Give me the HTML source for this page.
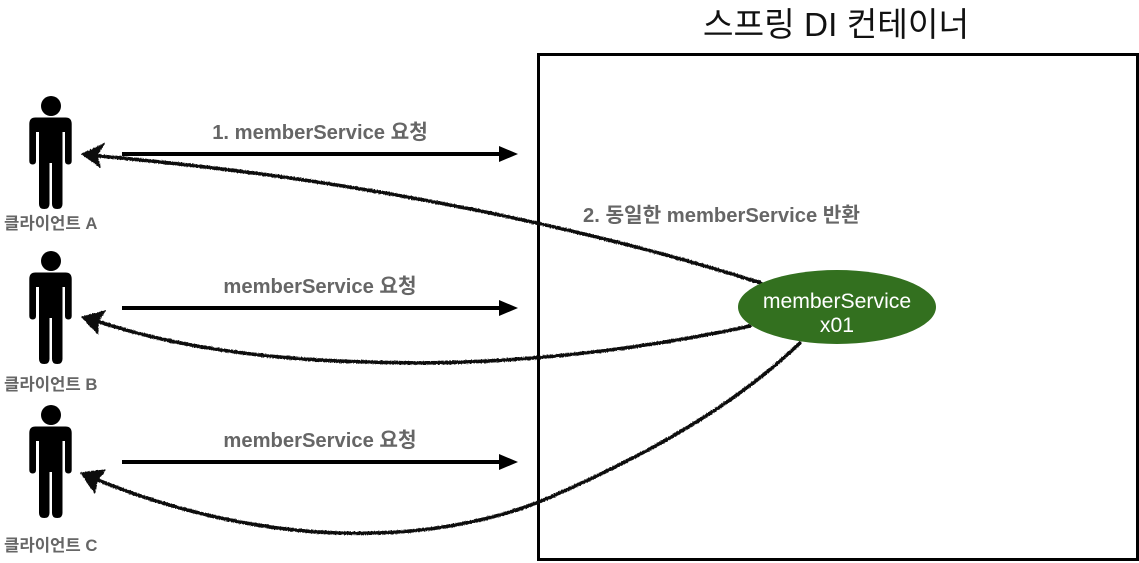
<!DOCTYPE html>
<html><head><meta charset="utf-8">
<style>
html,body{margin:0;padding:0;background:#fff;width:1139px;height:563px;overflow:hidden}
svg{display:block}
text{font-family:"Liberation Sans","Noto Sans CJK KR",sans-serif}
.g{fill:#666;font-weight:bold}
.s{fill:none;stroke:#111;stroke-width:3.6;stroke-linecap:round}
</style></head><body>
<svg width="1139" height="563" viewBox="0 0 1139 563" xmlns="http://www.w3.org/2000/svg">
<defs>
<filter id="r" filterUnits="userSpaceOnUse" x="0" y="0" width="1139" height="563">
<feTurbulence type="fractalNoise" baseFrequency="0.7" numOctaves="2" seed="4" result="n"/>
<feDisplacementMap in="SourceGraphic" in2="n" scale="2.2" xChannelSelector="R" yChannelSelector="G"/>
</filter>
<g id="p">
<circle cx="51" cy="106" r="10"/>
<path d="M35.5 117.5H65.5Q71.7 117.5 71.7 124V161Q71.7 164.5 68.4 164.5Q65 164.5 65 161V132H62.5V204Q62.5 209 57.2 209Q52 209 52 204V163H49.5V204Q49.5 209 44.2 209Q39 209 39 204V132H36V161Q36 164.5 32.7 164.5Q29.3 164.5 29.3 161V124Q29.3 117.5 35.5 117.5Z"/>
</g>
</defs>
<rect x="538.5" y="54.5" width="599" height="505" fill="none" stroke="#000" stroke-width="3"/>
<text x="836" y="36" font-size="33.3" text-anchor="middle" fill="#111">스프링 DI 컨테이너</text>
<use href="#p"/><use href="#p" y="155"/><use href="#p" y="309"/>
<text class="g" x="4" y="229" font-size="16.7">클라이언트 A</text>
<text class="g" x="4" y="390" font-size="16.7">클라이언트 B</text>
<text class="g" x="4" y="551" font-size="16.7">클라이언트 C</text>
<g fill="#000">
<rect x="122" y="152" width="380" height="4"/><path d="M499 146L518 154L499 162Z"/>
<rect x="122" y="306" width="380" height="4"/><path d="M499 300L518 308L499 316Z"/>
<rect x="122" y="460" width="380" height="4"/><path d="M499 454L518 462L499 470Z"/>
</g>
<text class="g" x="320" y="139" font-size="20.2" text-anchor="middle">1. memberService 요청</text>
<text class="g" x="320" y="293" font-size="20.2" text-anchor="middle">memberService 요청</text>
<text class="g" x="320" y="447" font-size="20.2" text-anchor="middle">memberService 요청</text>
<text class="g" x="721.5" y="222" font-size="20.2" text-anchor="middle">2. 동일한 memberService 반환</text>
<g filter="url(#r)">
<path class="s" d="M761 283C610 235 380 180 88 155"/>
<path class="s" d="M750 326C640 350 500 367 370 362C270 360 170 347 88 318"/>
<path class="s" d="M800 343C725 415 625 465 539 502C472 528 400 535 338 533C270 531 180 515 88 476"/>
<g fill="#111" stroke="#111" stroke-width="1.2" stroke-linejoin="round">
<path d="M82 154L104 144L97 155L100 167Z"/>
<path d="M82 317L105 311L98 321L98 334Z"/>
<path d="M81 473L105 470L97 481L95 493Z"/>
</g>
</g>
<ellipse cx="837" cy="307" rx="99" ry="37" fill="#33701f"/>
<text x="837" y="308" font-size="21.2" text-anchor="middle" fill="#fff">memberService</text>
<text x="837" y="332" font-size="21.2" text-anchor="middle" fill="#fff">x01</text>
</svg>
</body></html>
